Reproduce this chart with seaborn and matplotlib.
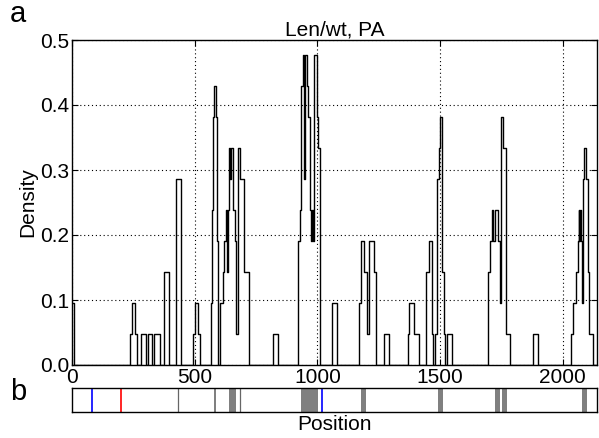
import numpy as np
import pandas as pd
import matplotlib
matplotlib.use("Agg")
import matplotlib.pyplot as plt
import seaborn as sns

# ---- data ----
N_READS = 21  # density unit = 1/21
step_starts = [0, 10, 237, 244, 258, 264, 281, 301, 308, 327, 333, 357, 375, 394,
               425, 443, 493, 500, 515, 523, 565, 570, 574, 578, 588, 591, 595,
               604, 616, 620, 627, 632, 636, 640, 646, 648, 656, 663, 670, 678,
               686, 700, 722, 820, 840,
               922, 930, 935, 941, 946, 949, 956, 962, 969, 972, 976, 980, 983,
               987, 997, 1001, 1010,
               1060, 1081, 1169, 1178, 1191, 1201, 1210, 1232, 1239,
               1271, 1292, 1368, 1375, 1396, 1413,
               1444, 1455, 1466, 1472, 1480, 1486, 1495, 1502, 1507, 1518, 1522,
               1527, 1548,
               1697, 1704, 1714, 1718, 1724, 1735, 1745, 1749, 1758, 1768, 1786,
               1878, 1899,
               2033, 2044, 2054, 2062, 2066, 2068, 2072, 2074, 2078, 2083, 2088,
               2096, 2103, 2109, 2122, 2140]
step_counts = [2, 0, 1, 2, 1, 0, 1, 0, 1, 0, 1, 0, 3, 0,
               6, 0, 1, 2, 1, 0, 2, 5, 8, 9, 8, 4, 0,
               2, 3, 4, 5, 3, 5, 7, 6, 7, 5, 4, 1, 7,
               6, 3, 0, 1, 0,
               4, 5, 9, 10, 6, 10, 9, 8, 6, 5, 4, 5, 4,
               10, 8, 7, 0,
               2, 0, 2, 4, 3, 1, 4, 3, 0,
               1, 0, 1, 2, 1, 0,
               3, 4, 1, 0, 1, 6, 7, 8, 3, 1, 0,
               1, 0,
               3, 4, 5, 4, 5, 4, 2, 8, 7, 1, 0,
               1, 0,
               1, 2, 3, 4, 5, 4, 5, 4, 2, 6, 7,
               6, 3, 1, 0, 0]

seq_length = 2140
x_ticks = [0, 500, 1000, 1500, 2000]
y_ticks = [0.0, 0.1, 0.2, 0.3, 0.4, 0.5]
title = "Len/wt, PA"

# feature track (panel b)
gray_box_starts = [578, 639, 933, 1178, 1493, 1724, 1754, 2078]
gray_box_ends = [588, 670, 1001, 1197, 1513, 1745, 1772, 2099]
thin_gray_lines = [432, 684]
blue_lines = [82, 1021]
red_lines = [198]

# ---- plot ----
sns.set_theme(style="white")
plt.rcParams['font.family'] = ['Liberation Sans', 'DejaVu Sans']
plt.rcParams['axes.linewidth'] = 1.0

fig = plt.figure(figsize=(5.99, 4.38), dpi=100)
ax = fig.add_axes([72 / 599, (438 - 365) / 438, 525 / 599, 325 / 438])
axb = fig.add_axes([72 / 599, (438 - 412) / 438, 525 / 599, 24 / 438])

df = pd.DataFrame({"Position": step_starts,
                   "Density": np.array(step_counts) / N_READS})
sns.lineplot(data=df, x="Position", y="Density", ax=ax, color="black",
             linewidth=1.0, drawstyle="steps-post", estimator=None, sort=False)

ax.set_xlim(0, seq_length)
ax.set_ylim(0, 0.5)
ax.set_xticks(x_ticks)
ax.set_yticks(y_ticks)
ax.set_yticklabels([f"{v:.1f}" for v in y_ticks])
ax.grid(True, color="black", linestyle=(0, (1, 2.5)), linewidth=0.8)
ax.set_axisbelow(True)
for s in ax.spines.values():
    s.set_color("black")
    s.set_linewidth(1.0)
ax.tick_params(axis="both", direction="in", length=4, width=0.8, color="black",
               labelsize=15, pad=2, labelcolor="black")
ax.tick_params(axis="both", which="both", top=True, right=True, bottom=True, left=True)
ax.set_xlabel("")
ax.set_ylabel("Density", fontsize=15, labelpad=2, color="black")
ax.set_title(title, fontsize=15, pad=3, color="black")

axb.set_xlim(0, seq_length)
axb.set_ylim(0, 1)
for a, b in zip(gray_box_starts, gray_box_ends):
    axb.axvspan(a, b, color="#808080", lw=0)
for xv in thin_gray_lines:
    axb.axvline(xv, color="#666666", lw=0.9)
for xv in blue_lines:
    axb.axvline(xv, color="#0000ff", lw=1.2)
for xv in red_lines:
    axb.axvline(xv, color="#ff0000", lw=1.2)
axb.set_xticks([])
axb.set_yticks([])
for s in axb.spines.values():
    s.set_color("black")
    s.set_linewidth(1.0)
axb.set_xlabel("Position", fontsize=15, labelpad=2, color="black")

fig.text(10 / 599, 1 - 14 / 438, "a", fontsize=21, va="center", ha="left", color="black")
fig.text(10 / 599, 1 - 392 / 438, "b", fontsize=21, va="center", ha="left", color="black")

fig.savefig("out.png", dpi=100)
